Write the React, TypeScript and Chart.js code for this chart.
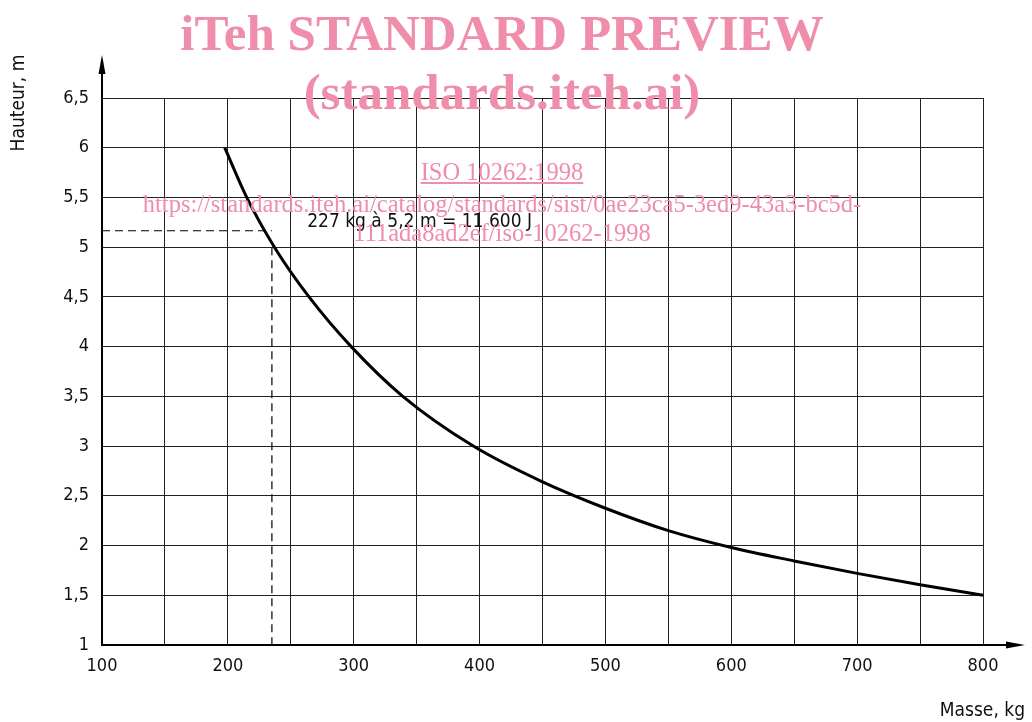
import React, { useEffect, useRef } from 'react';
import { Chart, registerables } from 'chart.js';

Chart.register(...registerables);

// Curve: Masse (kg) vs Hauteur (m)
const massKg = [197.5, 215, 237, 264.5, 298, 339, 395, 450, 500, 550, 600, 650, 700, 750, 800];
const heightM = [6.0, 5.5, 5.0, 4.5, 4.0, 3.5, 3.0, 2.64, 2.375, 2.15, 1.98, 1.845, 1.72, 1.605, 1.5];

// Reference (dashed) point
const refMass = 235;
const refHeight = 5.165;
const refDashTop = 5.0;

// Axis ranges / ticks
const xMin = 100;
const xMax = 800;
const xStep = 50;
const xLabelEvery = 100;
const yMin = 1;
const yMax = 6.5;
const yStep = 0.5;

const xTitle = 'Masse, kg';
const yTitle = 'Hauteur, m';
const annotationText = '227 kg à 5,2 m = 11 600 J';
const annotationMass = 263;
const annotationHeight = 5.2;

const watermark1 = 'iTeh STANDARD PREVIEW';
const watermark2 = '(standards.iteh.ai)';
const watermark3 = 'ISO 10262:1998';
const watermark4 = 'https://standards.iteh.ai/catalog/standards/sist/0ae23ca5-3ed9-43a3-bc5d-';
const watermark5 = '111ada8ad2ef/iso-10262-1998';

const TICK_FONT = '"DejaVu Sans Condensed", "DejaVu Sans", sans-serif';
const PINK = '#EF8DAB';

const axesPlugin = {
  id: 'axesArrows',
  afterDraw(chart: any) {
    const { ctx, chartArea } = chart;
    const { left, bottom } = chartArea;
    const xs = chart.scales.x;
    const ys = chart.scales.y;
    ctx.save();
    ctx.strokeStyle = '#000';
    ctx.fillStyle = '#000';
    ctx.lineWidth = 2;
    // y axis with arrow
    ctx.beginPath();
    ctx.moveTo(left, bottom);
    ctx.lineTo(left, 70);
    ctx.stroke();
    ctx.beginPath();
    ctx.moveTo(left, 55);
    ctx.lineTo(left - 3.5, 74);
    ctx.lineTo(left + 3.5, 74);
    ctx.closePath();
    ctx.fill();
    // x axis with arrow
    ctx.beginPath();
    ctx.moveTo(left, bottom);
    ctx.lineTo(1010, bottom);
    ctx.stroke();
    ctx.beginPath();
    ctx.moveTo(1025, bottom);
    ctx.lineTo(1006, bottom - 3.5);
    ctx.lineTo(1006, bottom + 3.5);
    ctx.closePath();
    ctx.fill();

    // titles
    ctx.font = `19px ${TICK_FONT}`;
    ctx.fillStyle = '#111';
    ctx.textAlign = 'right';
    ctx.textBaseline = 'alphabetic';
    ctx.fillText(xTitle, 1025, 716);
    ctx.save();
    ctx.translate(24, 103);
    ctx.rotate(-Math.PI / 2);
    ctx.textAlign = 'center';
    ctx.fillText(yTitle, 0, 0);
    ctx.restore();

    // annotation
    ctx.font = `19px ${TICK_FONT}`;
    ctx.textAlign = 'left';
    ctx.fillText(annotationText, xs.getPixelForValue(annotationMass), ys.getPixelForValue(annotationHeight));
    ctx.restore();
  },
};

export default function App() {
  const canvasRef = useRef<HTMLCanvasElement | null>(null);

  useEffect(() => {
    const canvas = canvasRef.current;
    if (!canvas) return;
    const chart = new Chart(canvas, {
      type: 'line',
      data: {
        datasets: [
          {
            label: 'Hauteur',
            data: massKg.map((m, i) => ({ x: m, y: heightM[i] })),
            borderColor: '#000',
            borderWidth: 3,
            pointRadius: 0,
            cubicInterpolationMode: 'monotone',
            fill: false,
            clip: false,
          },
          {
            label: 'ref-h',
            data: [
              { x: xMin, y: refHeight },
              { x: refMass, y: refHeight },
            ],
            borderColor: '#000',
            borderWidth: 1.2,
            borderDash: [8, 5],
            pointRadius: 0,
            fill: false,
          },
          {
            label: 'ref-v',
            data: [
              { x: refMass, y: refDashTop },
              { x: refMass, y: yMin },
            ],
            borderColor: '#000',
            borderWidth: 1.2,
            borderDash: [8, 5],
            pointRadius: 0,
            fill: false,
          },
        ],
      },
      options: {
        responsive: false,
        animation: false,
        events: [],
        layout: { padding: { top: 98, right: 49, left: 0, bottom: 0 } },
        plugins: {
          legend: { display: false },
          tooltip: { enabled: false },
          title: { display: false },
        },
        scales: {
          x: {
            type: 'linear',
            min: xMin,
            max: xMax,
            afterFit: (s: any) => {
              s.height = 77;
            },
            ticks: {
              stepSize: xStep,
              autoSkip: false,
              maxRotation: 0,
              padding: 11,
              color: '#111',
              font: { family: TICK_FONT, size: 18 },
              callback: (v: any) => (Number(v) % xLabelEvery === 0 ? String(v) : ''),
            },
            grid: { color: '#222', lineWidth: 1, drawTicks: false },
            border: { display: true, color: '#000', width: 2 },
          },
          y: {
            type: 'linear',
            min: yMin,
            max: yMax,
            afterFit: (s: any) => {
              s.width = 102;
            },
            ticks: {
              stepSize: yStep,
              autoSkip: false,
              padding: 13,
              color: '#111',
              font: { family: TICK_FONT, size: 18 },
              callback: (v: any) => String(v).replace('.', ','),
            },
            grid: { color: '#222', lineWidth: 1, drawTicks: false },
            border: { display: true, color: '#000', width: 2 },
          },
        },
      },
      plugins: [axesPlugin],
    } as any);
    return () => chart.destroy();
  }, []);

  const wmBase: React.CSSProperties = {
    position: 'absolute',
    left: 0,
    width: 1004,
    textAlign: 'center',
    color: PINK,
    fontFamily: '"Liberation Serif", "Times New Roman", serif',
    lineHeight: 1,
    whiteSpace: 'nowrap',
    pointerEvents: 'none',
  };

  return (
    <div style={{ position: 'fixed', left: 0, top: 0, width: 1032, height: 722, background: '#fff', overflow: 'hidden' }}>
      <canvas ref={canvasRef} width={1032} height={722} style={{ position: 'absolute', left: 0, top: 0 }} />
      <div style={{ ...wmBase, top: 8, fontSize: 51, fontWeight: 'bold' }}>{watermark1}</div>
      <div style={{ ...wmBase, top: 67, fontSize: 51, fontWeight: 'bold' }}>{watermark2}</div>
      <div style={{ ...wmBase, top: 160, fontSize: 24.5, textDecoration: 'underline' }}>{watermark3}</div>
      <div style={{ ...wmBase, top: 192, fontSize: 24.5 }}>{watermark4}</div>
      <div style={{ ...wmBase, top: 221, fontSize: 24.5 }}>{watermark5}</div>
    </div>
  );
}
